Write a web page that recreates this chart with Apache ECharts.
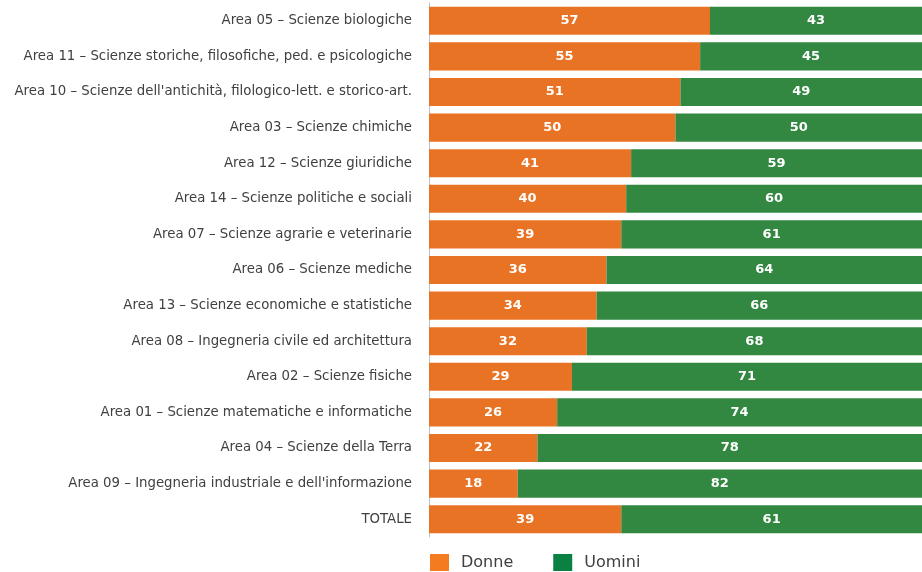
<!DOCTYPE html>
<html><head><meta charset="utf-8">
<script src="https://cdn.jsdelivr.net/npm/echarts@6/dist/echarts.min.js"></script>
<style>html,body{margin:0;padding:0;background:#fff}#c{width:922px;height:572px}</style>
</head><body><div id="c"></div>
<script>
const categories = [
  "Area 05 – Scienze biologiche",
  "Area 11 – Scienze storiche, filosofiche, ped. e psicologiche",
  "Area 10 – Scienze dell'antichità, filologico-lett. e storico-art.",
  "Area 03 – Scienze chimiche",
  "Area 12 – Scienze giuridiche",
  "Area 14 – Scienze politiche e sociali",
  "Area 07 – Scienze agrarie e veterinarie",
  "Area 06 – Scienze mediche",
  "Area 13 – Scienze economiche e statistiche",
  "Area 08 – Ingegneria civile ed architettura",
  "Area 02 – Scienze fisiche",
  "Area 01 – Scienze matematiche e informatiche",
  "Area 04 – Scienze della Terra",
  "Area 09 – Ingegneria industriale e dell'informazione",
  "TOTALE"
];
const donne = [57,55,51,50,41,40,39,36,34,32,29,26,22,18,39];
const uomini = [43,45,49,50,59,60,61,64,66,68,71,74,78,82,61];
const seriesNames = ["Donne","Uomini"];

const chart = echarts.init(document.getElementById('c'), null, {renderer:'canvas'});
const lbl = {show:true, position:'inside', color:'#fff', fontWeight:'bold', fontSize:13, fontFamily:'"DejaVu Sans", sans-serif'};
chart.setOption({
  animation:false,
  grid:{left:429, right:0, top:3, bottom:35, containLabel:false},
  xAxis:{type:'value', min:0, max:100, show:false},
  yAxis:{type:'category', data:categories, inverse:true,
    axisLine:{show:true, lineStyle:{color:'#bfbfbf', width:1}},
    axisTick:{show:false},
    axisLabel:{color:'#404040', fontSize:13.3, margin:17, fontFamily:'"DejaVu Sans", sans-serif'}},
  legend:{left:430, top:554, padding:0, itemWidth:19, itemHeight:17, itemGap:40,
    icon:'rect',
    textStyle:{color:'#404040', fontSize:16, fontFamily:'"DejaVu Sans", sans-serif', padding:[0,0,0,7]},
    data:[{name:seriesNames[0], itemStyle:{color:'#F47B20'}},{name:seriesNames[1], itemStyle:{color:'#0B8043'}}]},
  series:[
    {name:seriesNames[0], type:'bar', stack:'t', data:donne, barCategoryGap:'21%', itemStyle:{color:'#E87324'}, label:lbl},
    {name:seriesNames[1], type:'bar', stack:'t', data:uomini, barCategoryGap:'21%', itemStyle:{color:'#328741'}, label:lbl}
  ]
});
</script></body></html>
